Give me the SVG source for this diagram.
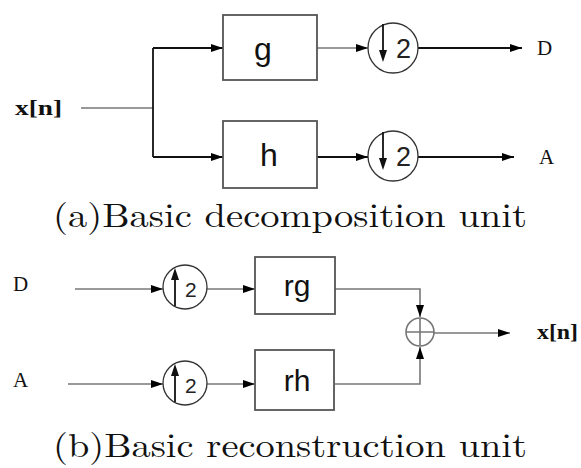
<svg xmlns="http://www.w3.org/2000/svg" width="581" height="468" viewBox="0 0 581 468">
<style>
.box{fill:#fff;stroke:#555;stroke-width:1.8}
.circ{fill:none;stroke:#333;stroke-width:1.3}
.ln{fill:none;stroke:#111;stroke-width:1.8}
.lg{fill:none;stroke:#777;stroke-width:1.6}
.lbl{font-family:"Liberation Serif",serif;font-size:21px;fill:#111}
.lblb{font-family:"Liberation Serif",serif;font-size:20px;font-weight:bold;fill:#111}
.blk{font-family:"Liberation Sans",Arial,sans-serif;fill:#111;text-anchor:middle}
.cap{font-family:"Latin Modern Roman","Liberation Serif",serif;font-size:34px;fill:#111}
.two{font-family:"Liberation Sans",Arial,sans-serif;fill:#222}
</style>
<defs>
<marker id="ah" markerUnits="userSpaceOnUse" markerWidth="13" markerHeight="9" refX="12" refY="4" orient="auto">
<path d="M0,0 L12,4 L0,8 z" fill="#000"/>
</marker>
</defs>
<g id="connectors">
<path class="lg" d="M81 108 H153"/>
<path class="ln" d="M153 48 V157"/>
<path class="ln" d="M153 48 H223" marker-end="url(#ah)"/>
<path class="ln" d="M153 157 H223" marker-end="url(#ah)"/>
<path class="lg" d="M317 48 H368" marker-end="url(#ah)"/>
<path class="ln" d="M317 157 H368" marker-end="url(#ah)"/>
<path class="ln" d="M418 48 H522" marker-end="url(#ah)"/>
<path class="ln" d="M418 157 H514" marker-end="url(#ah)"/>
<path class="lg" d="M75 289 H163" marker-end="url(#ah)"/>
<path class="lg" d="M207 289 H255" marker-end="url(#ah)"/>
<path class="lg" d="M68 384 H163" marker-end="url(#ah)"/>
<path class="lg" d="M207 384 H255" marker-end="url(#ah)"/>
<path class="lg" d="M335 289 H420 V317" marker-end="url(#ah)"/>
<path class="lg" d="M335 384 H420 V347" marker-end="url(#ah)"/>
<path class="lg" d="M433 333 H510" marker-end="url(#ah)"/>
</g>
<g id="label-xn-in"><text class="lblb" x="15" y="115" textLength="47" lengthAdjust="spacingAndGlyphs">x[n]</text></g>
<g id="box-g"><rect class="box" x="223" y="15" width="94" height="65"/><text class="blk" x="263" y="60" font-size="32">g</text></g>
<g id="box-h"><rect class="box" x="223" y="121" width="94" height="67"/><text class="blk" x="269" y="166" font-size="32">h</text></g>
<g id="down-g"><circle class="circ" cx="393" cy="48" r="25"/><path class="ln" d="M383 24 V58" stroke-width="1.5"/><path d="M379 50 L383 62 L387 50 z" fill="#111"/><text class="two" x="396" y="58" font-size="27">2</text></g>
<g id="down-h"><circle class="circ" cx="393" cy="156" r="25"/><path class="ln" d="M383 132 V166" stroke-width="1.5"/><path d="M379 158 L383 170 L387 158 z" fill="#111"/><text class="two" x="396" y="166" font-size="27">2</text></g>
<g id="label-D-out"><text class="lbl" x="537" y="55">D</text></g>
<g id="label-A-out"><text class="lbl" x="539" y="164">A</text></g>
<g id="caption-a"><text class="cap" x="53" y="227" textLength="474" lengthAdjust="spacingAndGlyphs">(a)Basic decomposition unit</text></g>
<g id="label-D-in"><text class="lbl" x="13" y="291" font-size="19">D</text></g>
<g id="label-A-in"><text class="lbl" x="13" y="387" font-size="19">A</text></g>
<g id="up-D"><circle class="circ" cx="185" cy="287" r="22"/><path class="ln" d="M175 273 V306" stroke-width="1.5"/><path d="M171 280 L175 268 L179 280 z" fill="#111"/><text class="two" x="185" y="297" font-size="21">2</text></g>
<g id="up-A"><circle class="circ" cx="185" cy="383" r="22"/><path class="ln" d="M175 369 V402" stroke-width="1.5"/><path d="M171 376 L175 364 L179 376 z" fill="#111"/><text class="two" x="185" y="393" font-size="21">2</text></g>
<g id="box-rg"><rect class="box" x="255" y="257" width="80" height="57"/><text class="blk" x="297" y="296" font-size="30">rg</text></g>
<g id="box-rh"><rect class="box" x="255" y="350" width="79" height="60"/><text class="blk" x="297" y="391" font-size="30">rh</text></g>
<g id="sum"><circle class="lg" cx="420" cy="332" r="14"/><path class="lg" d="M406 332 H434 M420 318 V346" stroke-width="1.3"/></g>
<g id="label-xn-out"><text class="lblb" x="537" y="339" font-size="17" textLength="41" lengthAdjust="spacingAndGlyphs">x[n]</text></g>
<g id="caption-b"><text class="cap" x="53" y="457" textLength="474" lengthAdjust="spacingAndGlyphs">(b)Basic reconstruction unit</text></g>
</svg>
